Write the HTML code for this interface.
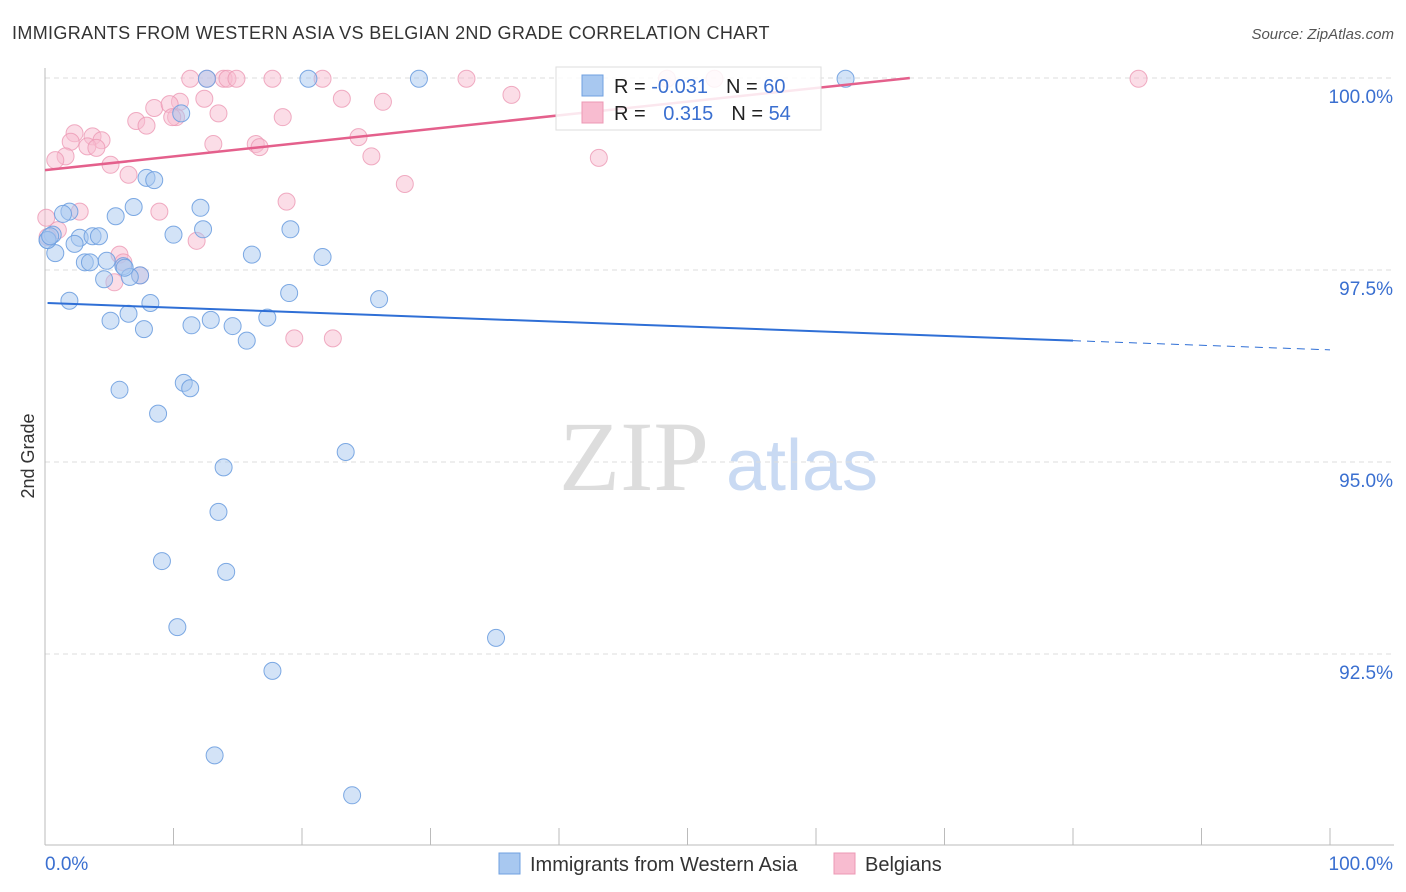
<!DOCTYPE html>
<html><head><meta charset="utf-8"><style>
body{margin:0;background:#fff;font-family:"Liberation Sans",sans-serif}
svg{display:block}
</style></head><body>
<svg id="chart" width="1406" height="892" xmlns="http://www.w3.org/2000/svg">
<text x="12" y="39" font-size="18" letter-spacing="0.35" fill="#333">IMMIGRANTS FROM WESTERN ASIA VS BELGIAN 2ND GRADE CORRELATION CHART</text>
<text x="1394" y="39" font-size="15" fill="#555" text-anchor="end" font-style="italic">Source: ZipAtlas.com</text>
<text transform="translate(34,456) rotate(-90)" font-size="18" fill="#333" text-anchor="middle">2nd Grade</text>
<g>
<text x="634" y="490" font-size="100" fill="#ddd" text-anchor="middle" font-family="Liberation Serif,serif">ZIP</text>
<text x="802" y="490" font-size="72" fill="#c9daf3" text-anchor="middle">atlas</text>
</g>
<g id="grid"></g><g id="axes"></g><g id="pts"></g><g id="trend"></g>
<g>
<rect x="556" y="67" width="265" height="63" fill="#fff" fill-opacity="0.85" stroke="#ddd"/>
<rect x="582" y="75" width="21" height="21" fill="#a8c8f0" stroke="#6fa0e0"/>
<rect x="582" y="102" width="21" height="21" fill="#f8bcd0" stroke="#ec98b4"/>
<text x="614" y="93" font-size="20" fill="#222">R = <tspan fill="#3a6fd0">-0.031</tspan><tspan dx="18">N = </tspan><tspan fill="#3a6fd0">60</tspan></text>
<text x="614" y="120" font-size="20" fill="#222">R = <tspan dx="12" fill="#3a6fd0">0.315</tspan><tspan dx="18">N = </tspan><tspan fill="#3a6fd0">54</tspan></text>
</g>
<g>
<rect x="499" y="853" width="21" height="21" fill="#a8c8f0" stroke="#6fa0e0"/>
<text x="530" y="871" font-size="20" fill="#333">Immigrants from Western Asia</text>
<rect x="834" y="853" width="21" height="21" fill="#f8bcd0" stroke="#ec98b4"/>
<text x="865" y="871" font-size="20" fill="#333">Belgians</text>
</g>
</svg>
<script>
const yTicks=[100,97.5,95,92.5];
const yTickLabels=["100.0%","97.5%","95.0%","92.5%"];
const blueX=[12.6,20.5,29.1,62.3,10.6,7.9,8.5,6.9,12.1,1.9,1.4,5.5,10.0,12.3,19.1,0.6,2.7,3.7,4.2,0.2,0.8,2.3,16.1,21.6,3.1,3.5,4.8,6.1,7.4,4.6,6.6,19.0,26.0,1.9,8.2,6.5,5.1,11.4,12.9,14.6,17.3,7.7,15.7,10.8,11.3,5.8,8.8,23.4,13.9,13.5,9.1,14.1,10.3,35.1,17.7,13.2,23.9,0.2,0.4,6.2];
const blueY=[99.99,99.99,99.99,99.99,99.54,98.70,98.67,98.32,98.31,98.26,98.23,98.20,97.96,98.03,98.03,97.96,97.92,97.94,97.94,97.89,97.72,97.84,97.70,97.67,97.60,97.60,97.62,97.55,97.43,97.38,97.41,97.20,97.12,97.10,97.07,96.93,96.84,96.78,96.85,96.77,96.88,96.73,96.58,96.03,95.96,95.94,95.63,95.13,94.93,94.35,93.71,93.57,92.85,92.71,92.28,91.18,90.66,97.89,97.94,97.53];
const pinkX=[11.3,12.6,13.9,14.2,14.9,17.7,21.6,32.8,48.4,52.1,85.1,10.5,12.4,23.1,26.3,36.3,8.5,9.7,10.2,9.9,7.1,7.9,13.5,18.5,24.4,2.3,3.7,4.4,2.0,3.3,4.0,13.1,16.4,16.7,25.4,43.1,1.6,0.8,5.1,6.5,28.0,18.8,0.1,2.7,8.9,1.0,11.8,5.8,6.1,7.4,5.4,19.4,22.4,0.2];
const pinkY=[99.99,99.99,99.99,99.99,99.99,99.99,99.99,99.99,99.99,99.99,99.99,99.69,99.73,99.73,99.69,99.78,99.61,99.66,99.49,99.49,99.44,99.38,99.54,99.49,99.23,99.28,99.24,99.19,99.17,99.11,99.09,99.14,99.14,99.10,98.98,98.96,98.98,98.93,98.87,98.74,98.62,98.39,98.18,98.26,98.26,98.02,97.88,97.70,97.60,97.43,97.34,96.61,96.61,97.93];
const blueTrendX=[0.2,80,100];
const blueTrendY=[97.07,96.58,96.46];
const pinkTrendX=[0,67.3];
const pinkTrendY=[98.80,100];
const NS="http://www.w3.org/2000/svg";
const sx=v=>45+v*12.85;
const sy=v=>78+(100-v)*76.8;
function mk(tag,attrs,parent){const e=document.createElementNS(NS,tag);for(const k in attrs)e.setAttribute(k,attrs[k]);document.getElementById(parent).appendChild(e);return e;}
yTicks.forEach((t,i)=>{
 const l=mk('line',{x1:45,x2:1394,y1:sy(t),y2:sy(t),stroke:'#ddd','stroke-dasharray':'5,4'},'grid');
 
 
 const tx=mk('text',{x:1393,y:sy(t)+25,'font-size':19,fill:'#3a6fd0','text-anchor':'end'},'axes');
 tx.textContent=yTickLabels[i];
 
 
});
const ax=mk('line',{x1:45,x2:1394,y1:845,y2:845,stroke:'#bbb'},'axes');


const ay=mk('line',{x1:45,x2:45,y1:68,y2:845,stroke:'#bbb'},'axes');


for(let i=0;i<=10;i++){const t=mk('line',{x1:sx(i*10),x2:sx(i*10),y1:828,y2:845,stroke:'#bbb'},'axes');
 
 }
const xl0=mk('text',{x:45,y:870,'font-size':19,fill:'#3a6fd0'},'axes');xl0.textContent='0.0%';


const xl1=mk('text',{x:1393,y:870,'font-size':19,fill:'#3a6fd0','text-anchor':'end'},'axes');xl1.textContent='100.0%';


pinkX.forEach((x,i)=>{const c=mk('circle',{cx:sx(x),cy:sy(pinkY[i]),r:8.5,fill:'#f8bcd0','fill-opacity':0.5,stroke:'#ec98b4','stroke-opacity':0.8},'pts');
 
 });
blueX.forEach((x,i)=>{const c=mk('circle',{cx:sx(x),cy:sy(blueY[i]),r:8.5,fill:'#a8c8f0','fill-opacity':0.5,stroke:'#6fa0e0','stroke-opacity':0.9},'pts');
 
 });
const bt=mk('line',{x1:sx(blueTrendX[0]),y1:sy(blueTrendY[0]),x2:sx(blueTrendX[1]),y2:sy(blueTrendY[1]),stroke:'#2f6fd6','stroke-width':2},'trend');


const bd=mk('line',{x1:sx(blueTrendX[1]),y1:sy(blueTrendY[1]),x2:sx(blueTrendX[2]),y2:sy(blueTrendY[2]),stroke:'#2f6fd6','stroke-width':1,'stroke-dasharray':'8,6'},'trend');


const pt=mk('line',{x1:sx(pinkTrendX[0]),y1:sy(pinkTrendY[0]),x2:sx(pinkTrendX[1]),y2:sy(pinkTrendY[1]),stroke:'#e4608c','stroke-width':2.5},'trend');


</script>
</body></html>
